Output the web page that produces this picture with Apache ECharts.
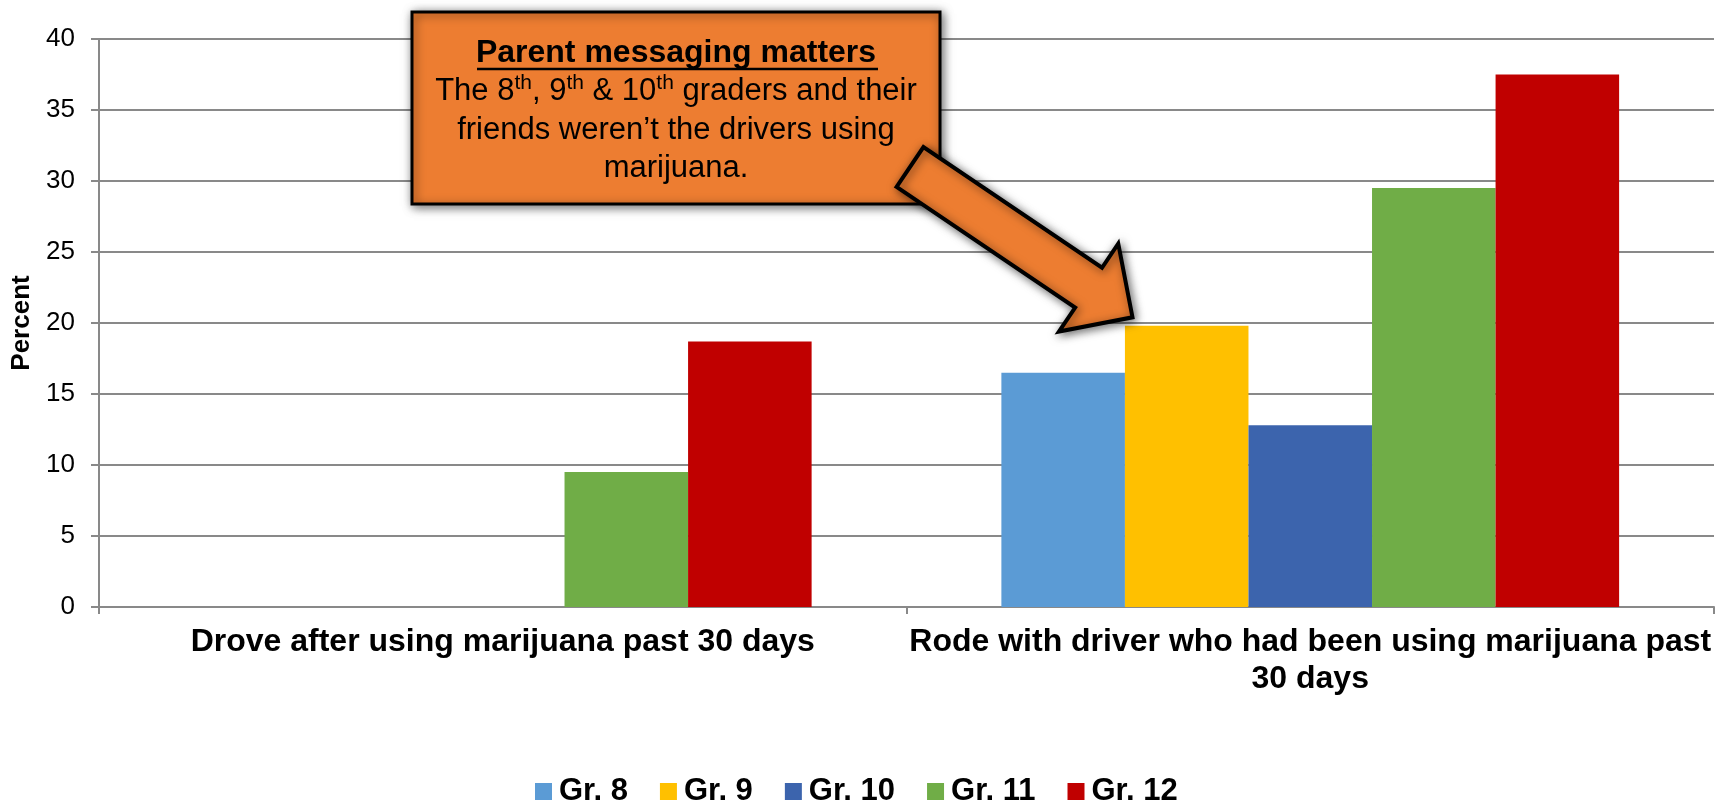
<!DOCTYPE html>
<html><head><meta charset="utf-8">
<script src="https://cdn.jsdelivr.net/npm/echarts@6/dist/echarts.min.js"></script>
<style>html,body{margin:0;padding:0;background:#fff}#c{width:1731px;height:801px}</style>
</head><body><div id="c"></div>
<script>
const categories = ['Drove after using marijuana past 30 days', 'Rode with driver who had been using marijuana past\n30 days'];
const seriesNames = ['Gr. 8', 'Gr. 9', 'Gr. 10', 'Gr. 11', 'Gr. 12'];
const gr8 = [null, 16.5];
const gr9 = [null, 19.8];
const gr10 = [null, 12.8];
const gr11 = [9.5, 29.5];
const gr12 = [18.7, 37.5];
const colors = ['#5B9BD5', '#FFC000', '#3C64AD', '#70AD47', '#C00000'];
const yMin = 0, yMax = 40, yStep = 5;
const yTitle = 'Percent';
const calloutTitle = 'Parent messaging matters';
const calloutBody = 'The 8{s|th}, 9{s|th} & 10{s|th} graders and their\nfriends weren\u2019t the drivers using\nmarijuana.';

const FF = '"Liberation Sans", Arial, sans-serif';
const GRID = '#898989';
const values = [gr8, gr9, gr10, gr11, gr12];

// arrow geometry (annotation overlay)
const S = [910, 167], T = [1132.5, 317.3];
const dx = T[0] - S[0], dy = T[1] - S[1], L = Math.hypot(dx, dy);
const u = [dx / L, dy / L], n = [-u[1], u[0]];
const sw = 24, hw = 53, hl = 53;
const H = [T[0] - u[0] * hl, T[1] - u[1] * hl];
const P = (p, k) => [p[0] + n[0] * k, p[1] + n[1] * k];
const arrowPts = [P(S, sw), P(H, sw), P(H, hw), T, P(H, -hw), P(H, -sw), P(S, -sw)];

const chart = echarts.init(document.getElementById('c'), null, {renderer: 'canvas'});
chart.setOption({
  animation: false,
  backgroundColor: '#fff',
  textStyle: {fontFamily: FF},
  grid: {left: 99, right: 17, top: 39, bottom: 194, containLabel: false},
  legend: {
    data: seriesNames, left: 530, top: 771, itemWidth: 17, itemHeight: 17, itemGap: 32,
    icon: 'rect',
    textStyle: {fontFamily: FF, fontSize: 31, fontWeight: 'bold', color: '#000', padding: [0, 0, 0, 2]}
  },
  xAxis: {
    type: 'category', data: categories,
    axisLine: {lineStyle: {color: GRID, width: 2}},
    axisTick: {show: true, length: 7, lineStyle: {color: GRID, width: 2}},
    axisLabel: {fontFamily: FF, fontSize: 32, fontWeight: 'bold', color: '#000', margin: 17, lineHeight: 37, interval: 0}
  },
  yAxis: {
    type: 'value', min: yMin, max: yMax, interval: yStep,
    name: yTitle, nameLocation: 'middle', nameGap: 62,
    nameTextStyle: {fontFamily: FF, fontSize: 26, fontWeight: 'bold', color: '#000'},
    axisLine: {show: true, lineStyle: {color: GRID, width: 2}},
    axisTick: {show: true, length: 8, lineStyle: {color: GRID, width: 2}},
    axisLabel: {fontFamily: FF, fontSize: 26, color: '#000', margin: 24},
    splitLine: {lineStyle: {color: GRID, width: 2}}
  },
  series: seriesNames.map((nm, i) => ({
    name: nm, type: 'bar', data: values[i],
    barGap: '0%', barCategoryGap: '23.5%',
    itemStyle: {color: colors[i]}
  })),
  graphic: [
    {type: 'rect', z: 100, shape: {x: 412, y: 12, width: 528, height: 192},
     style: {fill: '#ED7D31', stroke: '#000', lineWidth: 3, shadowBlur: 10, shadowColor: 'rgba(0,0,0,0.55)', shadowOffsetX: 2, shadowOffsetY: 2}},
    {type: 'text', z: 101, style: {
      x: 676, y: 34, align: 'center', verticalAlign: 'top',
      text: '{b|' + calloutTitle + '}\n' + calloutBody,
      fontFamily: FF, fontSize: 31, lineHeight: 38.5, fill: '#000',
      rich: {
        b: {fontFamily: FF, fontSize: 32, fontWeight: 'bold', lineHeight: 38.5, color: '#000'},
        s: {fontFamily: FF, fontSize: 21, lineHeight: 28, verticalAlign: 'top', color: '#000'}
      }}},
    {type: 'line', z: 101, shape: {x1: 477, y1: 69, x2: 878, y2: 69}, style: {stroke: '#000', lineWidth: 2.5}},
    {type: 'polygon', z: 102, shape: {points: arrowPts},
     style: {fill: '#ED7D31', stroke: '#000', lineWidth: 4, lineJoin: 'miter', shadowBlur: 10, shadowColor: 'rgba(0,0,0,0.55)', shadowOffsetX: 2, shadowOffsetY: 2}}
  ]
});
</script></body></html>
